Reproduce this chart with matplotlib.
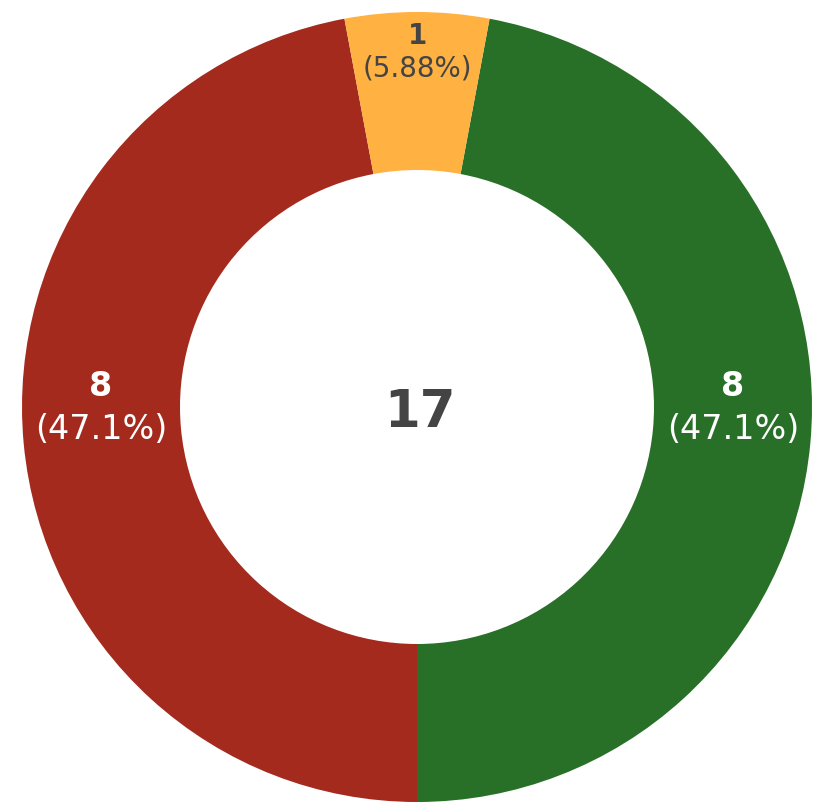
import matplotlib
matplotlib.use('Agg')
import matplotlib.pyplot as plt
import numpy as np

labels = ['Green', 'Red', 'Orange']
values = [8, 8, 1]
colors = ['#287028', '#a52a1e', '#ffb142']
text_colors = ['white', 'white', '#444444']
center_label = str(sum(values))

W, H = 820, 808
cx, cy, R = 417, 407, 395

fig = plt.figure(figsize=(W / 100, H / 100), dpi=100)
ax = fig.add_axes([0, 0, 1, 1])
total = sum(values)
start = 90 - 360 * values[-1] / total / 2  # last slice centred at top
wedges, _ = ax.pie(values, colors=colors, startangle=start, counterclock=False,
                   radius=1, wedgeprops=dict(width=0.4, linewidth=0))
ax.set_aspect('auto')
ax.set_xlim(-cx / R, (W - cx) / R)
ax.set_ylim(-(H - cy) / R, cy / R)
ax.axis('off')


def label_angle(t1, t2):
    # place big-slice labels on the horizontal if the slice spans it
    mid = (t1 + t2) / 2
    for a in (0, 180, 360, -180):
        if t1 <= a <= t2 and (t2 - t1) > 90:
            return a
    return mid


for w, v, tc in zip(wedges, values, text_colors):
    ang = np.deg2rad(label_angle(w.theta1, w.theta2))
    frac = v / total
    small = frac < 0.1
    r = 0.90 if small else 0.80
    x, y = r * np.cos(ang), r * np.sin(ang)
    fs = 20 if small else 24
    off = 12 if small else 16
    pct = f"{frac * 100:.3g}%"
    ax.annotate(str(v), (x, y), xytext=(0, off - 1), textcoords='offset points',
                ha='center', va='center', fontsize=fs, fontweight='bold', color=tc,
                family='DejaVu Sans')
    ax.annotate(f"({pct})", (x, y), xytext=(0, -off), textcoords='offset points',
                ha='center', va='center', fontsize=fs, color=tc, family='DejaVu Sans')

ax.annotate(center_label, (0, 0), xytext=(2, -4), textcoords='offset points',
            ha='center', va='center', fontsize=37, fontweight='bold',
            color='#444444', family='DejaVu Sans')

fig.savefig('out.png', dpi=100, facecolor='white')
